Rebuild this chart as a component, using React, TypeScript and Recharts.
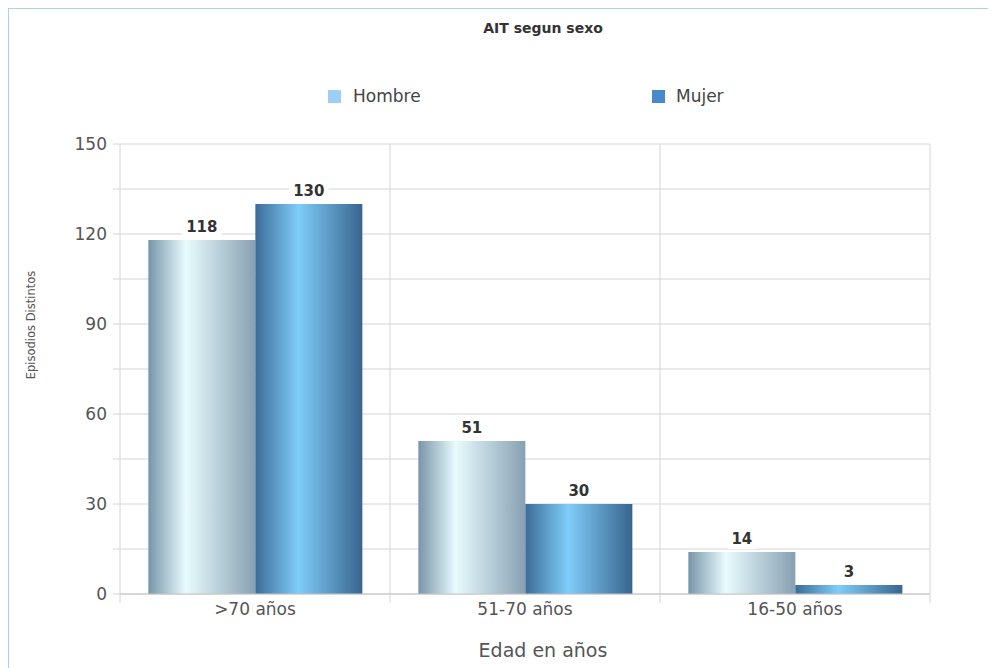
import { BarChart, Bar, XAxis, YAxis, CartesianGrid, Legend, LabelList, Label } from 'recharts';

const ageGroups = ['>70 años', '51-70 años', '16-50 años'];
const hombre = [118, 51, 14];
const mujer = [130, 30, 3];
const seriesNames = ['Hombre', 'Mujer'];
const legendColors = ['#9ccff5', '#4a89c9'];
const yTicks = [0, 15, 30, 45, 60, 75, 90, 105, 120, 135, 150];

const data = ageGroups.map((edad, i) => ({ edad, Hombre: hombre[i], Mujer: mujer[i] }));

const FONT = '"DejaVu Sans", sans-serif';
const GRID = '#d4d4d4';

function ValueLabel(props: any) {
  const { x, y, width, value } = props;
  const cx = x + width / 2;
  const w = String(value).length * 10.5 + 8;
  return (
    <g>
      <rect x={cx - w / 2} y={y - 21} width={w} height={18} fill="#fff" />
      <text x={cx} y={y - 8} textAnchor="middle" fontWeight="bold" fontSize={15} fill="#333" fontFamily={FONT}>
        {value}
      </text>
    </g>
  );
}

function XTick(props: any) {
  const { x, y, payload, index } = props;
  const half = payload.offset || 0;
  return (
    <g>
      {index === 0 && <line x1={x - half} x2={x - half} y1={y} y2={y + 9} stroke={GRID} />}
      <line x1={x + half} x2={x + half} y1={y} y2={y + 9} stroke={GRID} />
      <text x={x} y={y + 21} textAnchor="middle" fontSize={17} fill="#555" fontFamily={FONT}>
        {payload.value}
      </text>
    </g>
  );
}

function LegendBox() {
  const pos = [
    { sq: 319, txt: 344 },
    { sq: 643, txt: 667 },
  ];
  return (
    <div style={{ position: 'relative', width: 987, height: 120, fontFamily: FONT }}>
      {seriesNames.map((name, i) => (
        <div key={name}>
          <div style={{ position: 'absolute', left: pos[i].sq, top: 81, width: 13, height: 13, background: legendColors[i] }} />
          <div style={{ position: 'absolute', left: pos[i].txt, top: 77, fontSize: 17, lineHeight: '20px', color: '#444' }}>{name}</div>
        </div>
      ))}
    </div>
  );
}

export default function App() {
  return (
    <div
      style={{
        position: 'relative',
        width: 988,
        height: 660,
        boxSizing: 'border-box',
        borderTop: '1px solid #a9d2ec',
        borderLeft: '1px solid #a9d2ec',
        background: '#fff',
        fontFamily: FONT,
      }}
    >
      <div
        style={{
          position: 'absolute',
          top: 11,
          left: 0,
          width: 1068,
          textAlign: 'center',
          fontSize: 14,
          lineHeight: '16px',
          fontWeight: 'bold',
          color: '#333',
        }}
      >
        AIT segun sexo
      </div>
      <BarChart
        width={987}
        height={659}
        data={data}
        margin={{ top: 135, right: 66, bottom: 24, left: 0 }}
        barCategoryGap="10.5%"
        barGap={0}
        style={{ fontFamily: FONT }}
      >
        <defs>
          <linearGradient id="gradHombre" x1="0" y1="0" x2="1" y2="0">
            <stop offset="0%" stopColor="#7895a9" />
            <stop offset="35%" stopColor="#e8fbfe" />
            <stop offset="100%" stopColor="#87a0b2" />
          </linearGradient>
          <linearGradient id="gradMujer" x1="0" y1="0" x2="1" y2="0">
            <stop offset="0%" stopColor="#3c6c98" />
            <stop offset="40%" stopColor="#7fcdf9" />
            <stop offset="100%" stopColor="#38658e" />
          </linearGradient>
        </defs>
        <CartesianGrid
          stroke={GRID}
          verticalCoordinatesGenerator={({ offset }: any) =>
            [0, 1, 2, 3].map((i) => offset.left + (i * offset.width) / ageGroups.length)
          }
        />
        <XAxis
          dataKey="edad"
          height={50}
          tickSize={0}
          tickMargin={0}
          tickLine={false}
          axisLine={{ stroke: '#c4c4c4' }}
          interval={0}
          tick={<XTick />}
        >
          <Label
            content={() => (
              <text x={534} y={648} textAnchor="middle" fontSize={19} fill="#555" fontFamily={FONT}>
                Edad en años
              </text>
            )}
          />
        </XAxis>
        <YAxis
          width={111}
          domain={[0, 150]}
          ticks={yTicks}
          interval={0}
          tickSize={7}
          tickMargin={6}
          axisLine={false}
          tickLine={{ stroke: GRID }}
          tick={{ fontSize: 17, fill: '#555', fontFamily: FONT }}
          tickFormatter={(v: number) => (v % 30 === 0 ? String(v) : '')}
        >
          <Label
            content={() => (
              <text
                x={22}
                y={316}
                transform="rotate(-90, 22, 316)"
                textAnchor="middle"
                dominantBaseline="central"
                fontSize={11.5}
                fill="#555"
                fontFamily={FONT}
              >
                Episodios Distintos
              </text>
            )}
          />
        </YAxis>
        <Legend
          layout="horizontal"
          verticalAlign="middle"
          wrapperStyle={{ top: 0, left: 0, width: 987, height: 120 }}
          content={() => <LegendBox />}
        />
        <Bar dataKey="Hombre" fill="url(#gradHombre)" isAnimationActive={false}>
          <LabelList dataKey="Hombre" content={<ValueLabel />} />
        </Bar>
        <Bar dataKey="Mujer" fill="url(#gradMujer)" isAnimationActive={false}>
          <LabelList dataKey="Mujer" content={<ValueLabel />} />
        </Bar>
      </BarChart>
    </div>
  );
}
